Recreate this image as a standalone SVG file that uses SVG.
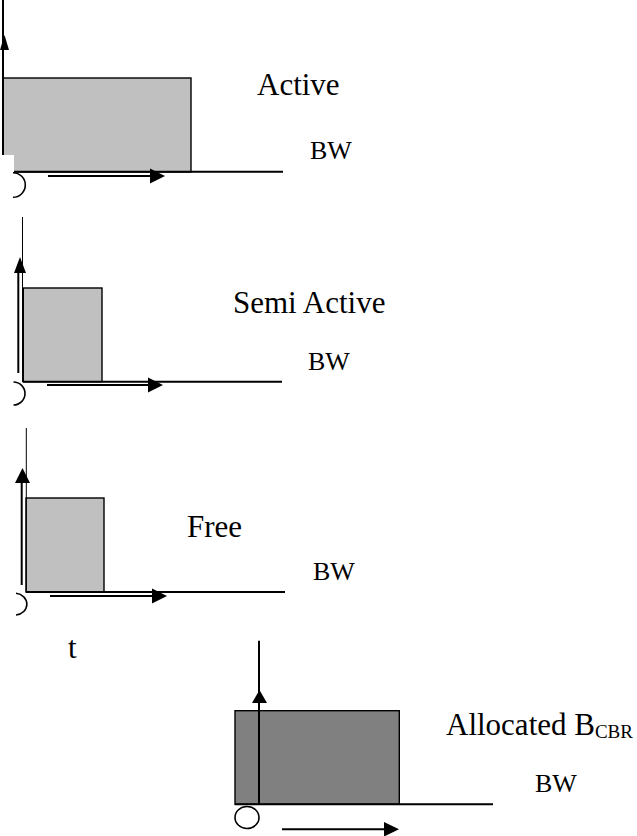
<svg xmlns="http://www.w3.org/2000/svg" width="637" height="836" viewBox="0 0 637 836">
<style>
.bg{fill:#ffffff}
.box{stroke:#000;stroke-width:1.4}
.light{fill:#c0c0c0}
.dark{fill:#808080}
.base{stroke:#000;stroke-width:2;fill:none}
.thin{stroke:#000;stroke-width:1;fill:none}
.shaft{stroke:#000;stroke-width:2;fill:none}
.head{fill:#000;stroke:none}
.origin{fill:#fff;stroke:#000;stroke-width:1.6}
.lbl{font-family:"Liberation Serif","Times New Roman",serif;font-size:31px;fill:#000}
.bw{font-family:"Liberation Serif","Times New Roman",serif;font-size:26px;fill:#000}
</style>
<rect class="bg" x="0" y="0" width="637" height="836"/>

<g id="active">
  <rect class="box light" x="3" y="78" width="188" height="94"/>
  <line class="base" x1="3" y1="171.7" x2="283" y2="171.7"/>
  <text class="lbl" x="257" y="95">Active</text>
  <text class="bw" x="310" y="159">BW</text>
</g>

<g id="semi-active">
  <rect class="box light" x="23.3" y="288" width="78.7" height="93.7"/>
  <line class="base" x1="23" y1="381.7" x2="282" y2="381.7"/>
  <text class="lbl" x="233" y="313">Semi Active</text>
  <text class="bw" x="308" y="370">BW</text>
</g>

<g id="free">
  <rect class="box light" x="26" y="498" width="78" height="94"/>
  <line class="base" x1="26" y1="592" x2="285" y2="592"/>
  <text class="lbl" x="187" y="537">Free</text>
  <text class="bw" x="313" y="580">BW</text>
</g>

<g id="time-label">
  <text class="lbl" x="68" y="658">t</text>
</g>

<g id="allocated">
  <rect class="box dark" x="235" y="710.7" width="164.3" height="93.6"/>
  <line class="base" x1="235" y1="804.3" x2="493" y2="804.3"/>
  <text class="lbl" x="446" y="735">Allocated B<tspan font-size="19" dy="3">CBR</tspan></text>
  <text class="bw" x="535" y="792">BW</text>
</g>

<g id="connectors">
  <!-- panel 1 -->
  <line class="shaft" x1="3" y1="0" x2="3" y2="172"/>
  <polygon class="head" points="0,50 4.5,35 9,50"/>
  <rect class="bg" x="0" y="155" width="14" height="18"/>
  <path class="thin" style="stroke-width:1.6" d="M13,172.7 A12.3,12.3 0 0 1 13,197.3"/>
  <line class="shaft" x1="48" y1="176" x2="151" y2="176"/>
  <polygon class="head" points="150,168.5 165,176 150,183.5"/>

  <!-- panel 2 -->
  <line class="thin" x1="22.5" y1="217" x2="22.5" y2="382"/>
  <line class="shaft" x1="18.3" y1="373" x2="18.3" y2="272"/>
  <polygon class="head" points="14,273 20,257 26,273"/>
  <path class="thin" style="stroke-width:1.6" d="M13.5,382 A11.5,11.5 0 0 1 13.5,405"/>
  <line class="shaft" x1="47" y1="385" x2="149" y2="385"/>
  <polygon class="head" points="148,377.5 163,385 148,392.5"/>

  <!-- panel 3 -->
  <line class="thin" x1="26.3" y1="428" x2="26.3" y2="592"/>
  <line class="shaft" x1="21.7" y1="585" x2="21.7" y2="482"/>
  <polygon class="head" points="15,483 22.5,468 30,483"/>
  <path class="thin" style="stroke-width:1.6" d="M16,593.3 A12,10.9 0 0 1 16,615"/>
  <line class="shaft" x1="50" y1="596" x2="153" y2="596"/>
  <polygon class="head" points="152,588.5 167,596 152,603.5"/>

  <!-- panel 4 -->
  <line class="shaft" x1="259" y1="640.7" x2="259" y2="804"/>
  <polygon class="head" points="252,703 259.5,690 267,703"/>
  <ellipse class="origin" cx="247" cy="817.5" rx="12" ry="11"/>
  <line class="shaft" x1="282" y1="829.3" x2="385" y2="829.3"/>
  <polygon class="head" points="384,822 399,829.3 384,836.6"/>
</g>
</svg>
